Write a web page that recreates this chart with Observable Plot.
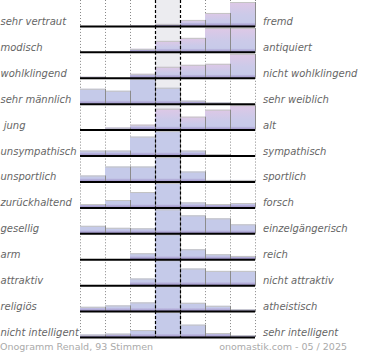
<!DOCTYPE html>
<html>
<head>
<meta charset="utf-8">
<script src="https://cdn.jsdelivr.net/npm/d3@7"></script>
<script src="https://cdn.jsdelivr.net/npm/@observablehq/plot@0.6"></script>
<style>
  html, body { margin: 0; padding: 0; background: #fff; }
  #chart svg { display: block; }
  .cap { display: flex; justify-content: space-between; width: 347px; height: 20px;
         font: 9.5px "DejaVu Sans", sans-serif; line-height: 13px; color: #aaa; }
</style>
</head>
<body>
<div id="chart"></div>
<div class="cap"><span>Onogramm Renald, 93 Stimmen</span><span>onomastik.com - 05 / 2025</span></div>
<script>
// ---- data ----
const leftLabels = ["sehr vertraut", "modisch", "wohlklingend", "sehr männlich", " jung", "unsympathisch",
  "unsportlich", "zurückhaltend", "gesellig", "arm", "attraktiv", "religiös", "nicht intelligent"];
const rightLabels = ["fremd", "antiquiert", "nicht wohlklingend", "sehr weiblich", "alt", "sympathisch",
  "sportlich", "forsch", "einzelgängerisch", "reich", "nicht attraktiv", "atheistisch", "sehr intelligent"];
const columns = [0, 1, 2, 3, 4, 5, 6];
// relative bar heights per row (7 steps, left -> right)
const rowValues = [
  [0, 0, 0.5, 2, 6, 13, 24],
  [0, 0.5, 3, 11, 14, 24, 24],
  [1, 0, 4, 11, 13, 14, 24],
  [15, 13, 25, 16, 3, 1.3, 0],
  [0, 2, 5, 21, 13, 20, 24.5],
  [5, 5, 19, 24.5, 5, 1.5, 0],
  [6, 15, 15, 24.5, 10, 1.5, 1.5],
  [3.4, 7.4, 15.4, 24.5, 5, 3.4, 4.4],
  [7.5, 5.5, 5, 24, 18, 15, 9],
  [0, 0, 6, 25, 10, 5, 3.3],
  [0, 0, 6.7, 25, 16.7, 14.3, 14.3],
  [4.3, 5.7, 8.7, 25, 8.3, 5.3, 1.7],
  [2.4, 3.4, 7, 25, 12.4, 4, 1.7]
];

// ---- table ----
const center = columns[Math.floor(columns.length / 2)];
const table = [];
rowValues.forEach((vals, i) => {
  const tot = d3.sum(vals);
  const mean = d3.sum(vals, (v, j) => v * (j + 1)) / tot;
  const lean = mean > 5.2;
  vals.forEach((v, j) => table.push({row: leftLabels[i], col: columns[j], v, lean}));
});
const bars = table.filter(d => d.v > 0);
const gridCols = [0, 1, 2, 5, 6, 7];

const svg = Plot.plot({
  width: 370,
  height: 340,
  marginTop: 0,
  marginBottom: 3,
  marginLeft: 80,
  marginRight: 115,
  x: {domain: [0, columns.length], axis: null},
  y: {domain: [0, 26], axis: null},
  fy: {domain: leftLabels, axis: null, padding: 0, round: false},
  style: {fontFamily: "DejaVu Sans", background: "white"},
  marks: [
    Plot.rect([center], {x1: d => d, x2: d => d + 1, fill: "#ececf0"}),
    Plot.ruleX(gridCols, {stroke: "#888", strokeDasharray: "1,2", strokeWidth: 1}),
    Plot.rectY(bars.filter(d => !d.lean), {fy: "row", x1: "col", x2: d => d.col + 1, y: "v", fill: "#c5cae9"}),
    Plot.rectY(bars.filter(d => d.lean), {fy: "row", x1: "col", x2: d => d.col + 1, y: "v", fill: "url(#pinkGrad)"}),
    Plot.rectY(bars, {fy: "row", x1: "col", x2: d => d.col + 1, y: d => Math.min(d.v, 3), fill: "url(#stripGrad)"}),
    Plot.ruleY(bars, {fy: "row", x1: "col", x2: d => d.col + 1, y: "v", stroke: "#c4c4c4", strokeWidth: 1}),
    Plot.ruleX(bars, {fy: "row", x: d => d.col + 1, y1: 0, y2: "v", stroke: "#8c8c8c", strokeWidth: 1}),
    Plot.ruleY([0], {stroke: "#000", strokeWidth: 2}),
    Plot.ruleX([center, center + 1], {stroke: "#000", strokeDasharray: "3,2", strokeWidth: 1.2}),
    Plot.text(leftLabels, {fy: d => d, text: d => d, frameAnchor: "bottom-left", textAnchor: "start",
      lineAnchor: "bottom", dx: -80, dy: -1.5, fill: "#666", fontStyle: "italic", fontSize: 10}),
    Plot.text(rightLabels, {fy: (d, i) => leftLabels[i], text: d => d, frameAnchor: "bottom-right", textAnchor: "start",
      lineAnchor: "bottom", dx: 7.5, dy: -1.5, fill: "#666", fontStyle: "italic", fontSize: 10})
  ]
});

const ns = "http://www.w3.org/2000/svg";
const defs = document.createElementNS(ns, "defs");
function grad(id, stops) {
  const g = document.createElementNS(ns, "linearGradient");
  g.setAttribute("id", id);
  g.setAttribute("x1", "0"); g.setAttribute("y1", "0");
  g.setAttribute("x2", "0"); g.setAttribute("y2", "1");
  stops.forEach(([o, c]) => {
    const s = document.createElementNS(ns, "stop");
    s.setAttribute("offset", o);
    s.setAttribute("stop-color", c);
    g.appendChild(s);
  });
  defs.appendChild(g);
}
grad("pinkGrad", [[0, "#dec8e6"], [0.55, "#cbcae9"], [1, "#c5cae9"]]);
grad("stripGrad", [[0, "#c0bfe4"], [1, "#9e92c7"]]);
svg.insertBefore(defs, svg.firstChild);
document.getElementById("chart").appendChild(svg);
</script>
</body>
</html>
